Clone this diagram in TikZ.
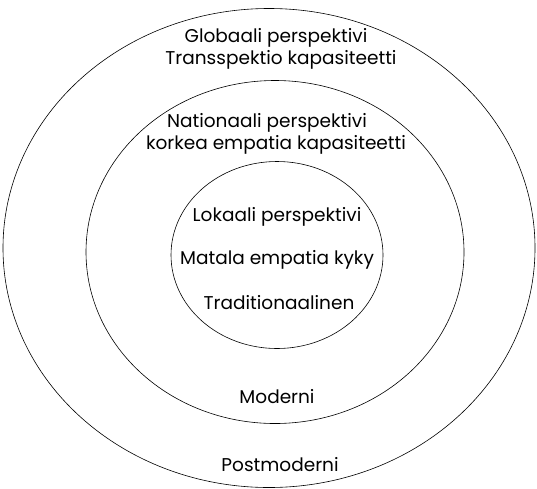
\documentclass[tikz,border=0pt]{standalone}
\usepackage{fontspec}
\setmainfont{Poppins}
\usetikzlibrary{shapes.geometric}
\begin{document}
\begin{tikzpicture}[x=1pt, y=-1pt]
        \useasboundingbox (0,0) rectangle (537,488);
        \tikzset{kehä/.style={draw, ellipse, line width=0.6pt, inner sep=0pt},
                 teksti/.style={font=\fontsize{18.5}{21}\selectfont, inner sep=0pt, align=center}}

        % Kehät
        \node[kehä, minimum width=532pt, minimum height=479pt] (ulko) at (269,248) {};
        \node[kehä, minimum width=378pt, minimum height=343pt] (keski) at (275,252) {};
        \node[kehä, minimum width=212pt, minimum height=187pt] (sisä) at (277,255) {};

        % Ulkokehän tekstit
        \node[teksti] (globaali) at (276,38) {Globaali perspektivi};
        \node[teksti] (transspektio) at (281,60) {Transspektio kapasiteetti};

        % Keskikehän tekstit
        \node[teksti] (nationaali) at (267,123) {Nationaali perspektivi};
        \node[teksti] (korkea) at (276,145) {korkea empatia kapasiteetti};

        % Sisäkehän tekstit
        \node[teksti] (lokaali) at (277,217) {Lokaali perspektivi};
        \node[teksti] (matala) at (277,260) {Matala empatia kyky};
        \node[teksti] (traditio) at (279,303) {Traditionaalinen};

        % Aikakaudet
        \node[teksti] (moderni) at (277,397) {Moderni};
        \node[teksti] (postmoderni) at (280,465) {Postmoderni};
      \end{tikzpicture}
\end{document}
